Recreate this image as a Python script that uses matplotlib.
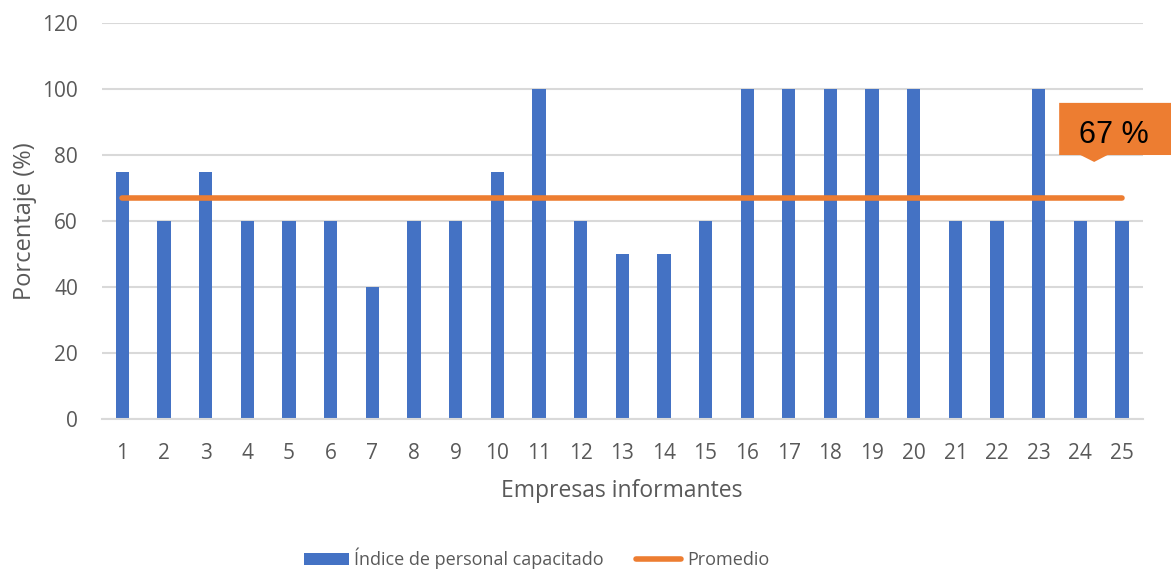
import matplotlib
matplotlib.use("Agg")
import matplotlib.pyplot as plt
from matplotlib.patches import Polygon
from matplotlib.lines import Line2D
from matplotlib.patches import Patch

# Data
empresas = [str(i) for i in range(1, 26)]
indice = [75, 60, 75, 60, 60, 60, 40, 60, 60, 75, 100, 60, 50, 50, 60,
          100, 100, 100, 100, 100, 60, 60, 100, 60, 60]
promedio = 67
yticks = [0, 20, 40, 60, 80, 100, 120]

BLUE = "#4472C4"
ORANGE = "#ED7D31"
GRAY = "#595959"
GRID = "#D9D9D9"

plt.rcParams["font.family"] = ["Open Sans", "DejaVu Sans"]

fig = plt.figure(figsize=(11.71, 5.70), dpi=100)
ax = fig.add_axes([0.0867, 0.2649, 0.8893, 0.6947])

x = list(range(len(empresas)))
ax.bar(x, indice, width=0.32, color=BLUE, zorder=2)
ax.plot([x[0], x[-1]], [promedio, promedio], color=ORANGE, lw=4,
        solid_capstyle="round", zorder=3)

ax.set_xlim(-0.5, len(empresas) - 0.5)
ax.set_ylim(0, 120)
ax.set_yticks(yticks)
ax.set_xticks(x)
ax.set_xticklabels(empresas)
ax.grid(axis="y", color=GRID, lw=1.5, zorder=0)
for s in ["top", "right", "left"]:
    ax.spines[s].set_visible(False)
ax.spines["bottom"].set_color(GRID)
ax.spines["bottom"].set_linewidth(1.5)
ax.tick_params(axis="both", length=0, colors=GRAY, labelsize=15)
ax.tick_params(axis="x", pad=17)
ax.tick_params(axis="y", pad=17)

ax.set_xlabel("Empresas informantes", fontsize=16.5, color=GRAY, labelpad=11)
ax.set_ylabel("Porcentaje (%)", fontsize=17, color=GRAY, labelpad=4)

# Callout with the average value
bx0, bx1 = 22.49, 25.8
by0, by1 = 80.0, 95.8
callout = Polygon([(bx0, by1), (bx1, by1), (bx1, by0), (23.65, by0),
                   (23.33, 77.9), (23.0, by0), (bx0, by0)],
                  closed=True, facecolor=ORANGE, edgecolor="none",
                  transform=ax.transData, clip_on=False, zorder=4)
ax.add_patch(callout)
ax.text(23.8, 86.2, f"{promedio} %", ha="center", va="center",
        fontsize=22, color="black", zorder=5, family=["Liberation Sans"])

handles = [Patch(facecolor=BLUE, edgecolor="none"),
           Line2D([0], [0], color=ORANGE, lw=4, solid_capstyle="round")]
fig.legend(handles, ["Índice de personal capacitado", "Promedio"],
           loc="center", bbox_to_anchor=(0.458, 0.02), ncol=2, frameon=False,
           fontsize=13, labelcolor=GRAY, handlelength=2.5, handletextpad=0.3,
           columnspacing=1.8)

fig.savefig("out.png", dpi=100)
